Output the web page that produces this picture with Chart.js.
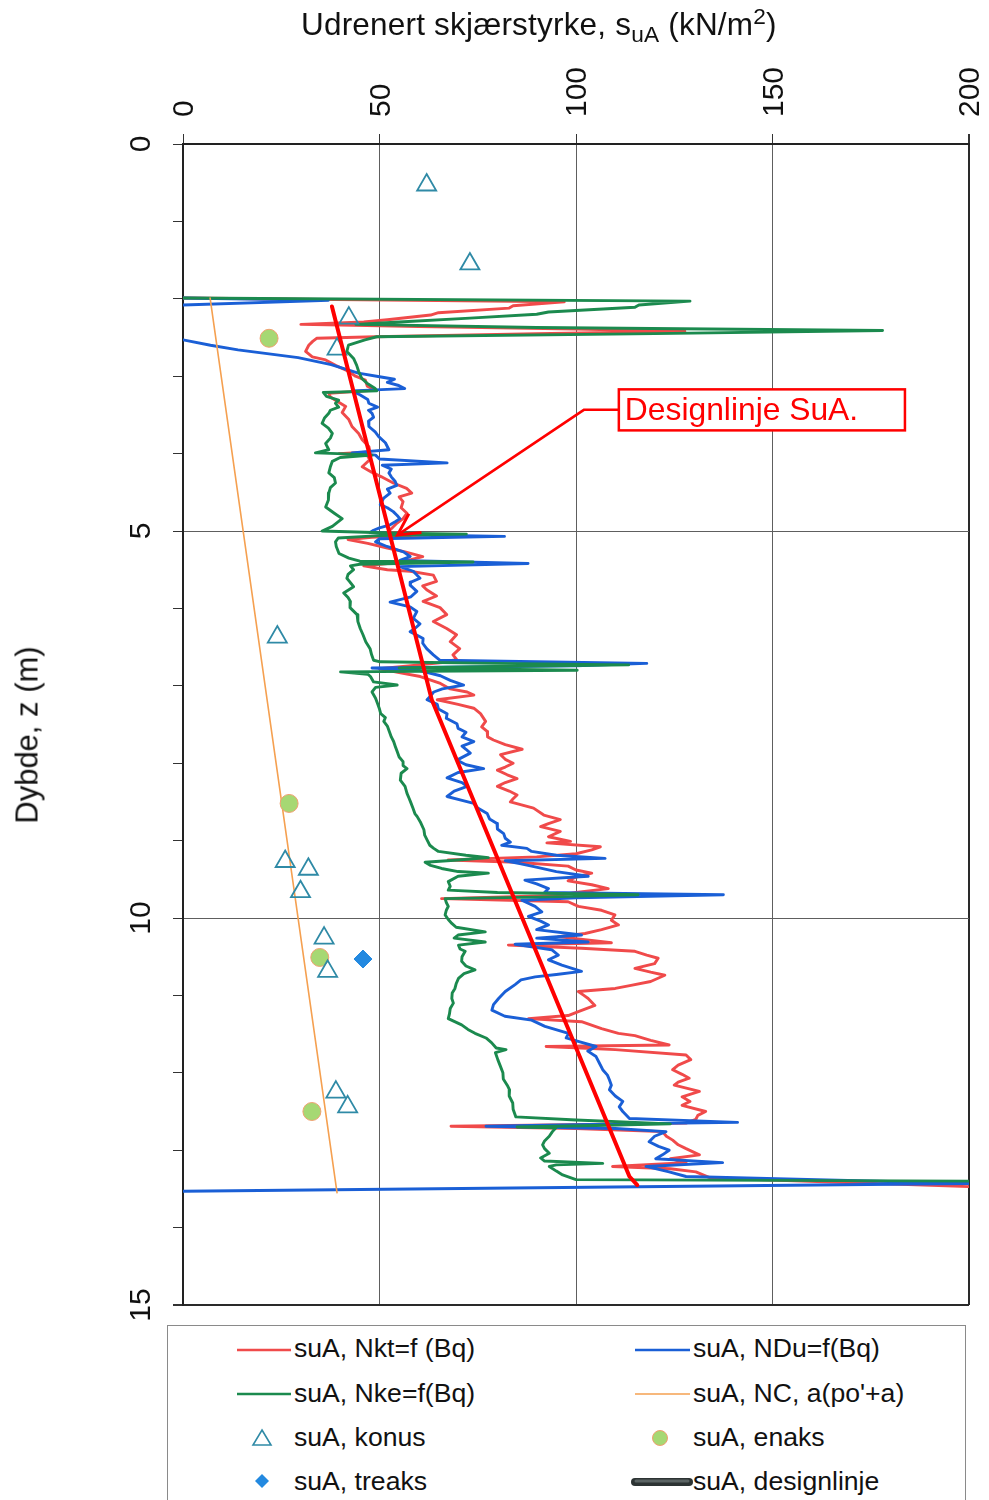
<!DOCTYPE html>
<html>
<head>
<meta charset="utf-8">
<script src="https://cdn.jsdelivr.net/npm/chart.js@4.4.1/dist/chart.umd.min.js"></script>
<style>
  html, body { margin: 0; padding: 0; background: #fff; width: 989px; height: 1500px; overflow: hidden;
    font-family: "Liberation Sans", Arial, sans-serif; color: #111; }
  #wrap { position: absolute; left: 0; top: 0; width: 989px; height: 1320px; }
  #xtitle { position: absolute; left: 301px; top: 9px; font-size: 31.5px; line-height: 31px; white-space: nowrap; letter-spacing: 0.2px; }
  #xtitle sub { font-size: 0.72em; vertical-align: -0.3em; line-height: 0; }
  #xtitle sup { font-size: 0.72em; vertical-align: 0.5em; line-height: 0; }
  #ytitle { position: absolute; left: 27px; top: 735px; font-size: 31px; line-height: 31px; white-space: nowrap;
    transform: translate(-50%, -50%) rotate(-90deg); }
  #legend { position: absolute; left: 167px; top: 1325px; width: 799px; height: 200px;
    border: 1.5px solid #8a8a8a; box-sizing: border-box; }
  #legend svg { position: absolute; left: 0; top: 0; }
  .lab { position: absolute; font-size: 26.6px; line-height: 30px; white-space: nowrap; }
</style>
</head>
<body>
<div id="wrap"><canvas id="c" width="989" height="1320"></canvas></div>
<div id="xtitle">Udrenert skjærstyrke, s<sub>uA</sub> (kN/m<sup>2</sup>)</div>
<div id="ytitle">Dybde, z (m)</div>
<div id="legend">
  <svg width="799" height="200" viewBox="0 0 799 200">
    <line x1="69" y1="24" x2="123" y2="24" stroke="#f04a4a" stroke-width="2.5"/>
    <line x1="69" y1="68" x2="123" y2="68" stroke="#1b8a4e" stroke-width="2.5"/>
    <polygon points="94,104 103,119 85,119" fill="none" stroke="#2f8aa6" stroke-width="1.6"/>
    <polygon points="94,148 101,155 94,162 87,155" fill="#2389e0"/>
    <line x1="467" y1="24" x2="522" y2="24" stroke="#1a5fd6" stroke-width="2.5"/>
    <line x1="467" y1="68" x2="522" y2="68" stroke="#f5a050" stroke-width="1.5"/>
    <circle cx="492" cy="112" r="7.5" fill="#a6d873" stroke="#f0a070" stroke-width="1"/>
    <line x1="467" y1="156" x2="521" y2="156" stroke="#2c3333" stroke-width="8" stroke-linecap="round"/>
    <line x1="468" y1="155" x2="520" y2="155" stroke="#5b6464" stroke-width="3" stroke-linecap="round"/>
  </svg>
  <div class="lab" style="left:126px;top:7px">suA, Nkt=f (Bq)</div>
  <div class="lab" style="left:126px;top:52px">suA, Nke=f(Bq)</div>
  <div class="lab" style="left:126px;top:96px">suA, konus</div>
  <div class="lab" style="left:126px;top:140px">suA, treaks</div>
  <div class="lab" style="left:525px;top:7px">suA, NDu=f(Bq)</div>
  <div class="lab" style="left:525px;top:52px">suA, NC, a(po'+a)</div>
  <div class="lab" style="left:525px;top:96px">suA, enaks</div>
  <div class="lab" style="left:525px;top:140px">suA, designlinje</div>
</div>

<script>
// Axis tick labels
const strengthTicks = [0, 50, 100, 150, 200];   // kN/m2
const depthTicks = [0, 5, 10, 15];              // m

// Each profile is a list of [depth (m), suA (kN/m2)] pairs; null breaks the line.
const suNkt = [
  [1.99,0],[2.04,97],[2.09,84],[2.12,83],[2.18,65],[2.21,63],[2.27,52],[2.30,46],[2.33,30],[2.36,60],[2.39,100],
  [2.42,127.7],[2.45,90],[2.49,49],[2.51,34],[2.55,33],[2.60,32],[2.68,31.2],[2.75,32.9],[2.79,36.3],[2.86,38.8],
  [2.94,42.2],[3.00,43.9],[3.05,46.4],[3.13,46.9],[3.18,49],[3.22,37.1],[3.27,37.5],[3.31,38.8],[3.39,41.4],
  [3.47,40.5],[3.56,42.2],[3.65,43],[3.74,44.7],[3.82,45.6],[3.91,47.3],[3.98,47.6],[4.00,39.7],[4.03,47],
  [4.08,47.5],[4.17,45.6],[4.24,48],[4.30,50.5],[4.38,53.5],[4.45,56.9],[4.51,58.2],[4.56,55],[4.62,56],
  [4.70,55.5],[4.77,57],[4.84,56],[4.90,54.4],[4.97,53],[5.02,52],[5.05,62],[5.08,48],[5.11,42],[5.16,47],
  [5.22,52],[5.27,56.5],[5.33,61],[5.37,58],[5.41,54],[5.45,46],[5.50,52],[5.52,57.8],[5.57,63.7],[5.65,64.5],
  [5.71,61],[5.76,62],[5.84,64.5],[5.91,61.1],[5.99,65.4],[6.08,67.1],[6.17,63.7],[6.26,67.1],[6.34,69.6],
  [6.43,68],[6.52,70.4],[6.60,68.7],[6.66,69.6],[6.70,66],[6.74,58],[6.78,50],[6.83,55],[6.88,60.4],[6.97,65.5],
  [7.04,68],[7.08,72.3],[7.12,74],[7.18,64.7],[7.24,70],[7.29,74],[7.36,75.7],[7.46,77],[7.53,76],[7.59,77.4],
  [7.66,77.5],[7.70,79],[7.76,82],[7.82,86.3],[7.89,80.8],[7.95,82],[8.00,84],[8.05,82],[8.09,80],[8.15,82.5],
  [8.20,85],[8.25,82],[8.30,80],[8.36,83],[8.41,85],[8.46,84],[8.50,83.3],[8.58,89.2],[8.67,91.8],[8.73,96],
  [8.78,93],[8.82,91],[8.88,96],[8.95,93],[9.01,98.6],[9.03,92.6],[9.08,106.2],[9.12,104],[9.17,100],[9.21,90],
  [9.25,67.5],[9.28,85],[9.33,98],[9.38,100],[9.42,104],[9.47,100],[9.52,98],[9.57,104],[9.62,108.2],[9.67,100],
  [9.71,95],[9.75,65.8],[9.79,98],[9.85,100.6],[9.90,106.5],[9.96,109.9],[10.03,109],[10.09,110.8],[10.15,106.5],
  [10.20,102.3],[10.24,95.5],[10.29,104],[10.32,109],[10.35,82.8],[10.39,101.4],[10.43,115],[10.48,118],
  [10.52,120.9],[10.59,120],[10.65,115],[10.70,119],[10.74,122.6],[10.82,119],[10.87,114],[10.91,110],
  [10.95,100.6],[11.00,102],[11.04,103.1],[11.13,104.8],[11.21,100.6],[11.26,98],[11.30,87.9],[11.34,101.4],
  [11.43,106.5],[11.49,110.8],[11.52,115],[11.58,119],[11.64,123.7],[11.66,92.4],[11.70,110],[11.77,128],
  [11.83,129.2],[11.90,126],[11.96,124.6],[12.02,127],[12.07,128.8],[12.12,126],[12.16,125],[12.24,131.4],
  [12.31,127],[12.37,129],[12.42,127],[12.50,133],[12.55,131],[12.60,130.5],[12.65,128],[12.69,68.2],[12.72,100],
  [12.76,122],[12.82,123],[12.87,124.6],[12.93,126],[12.98,128],[13.06,131.4],[13.11,124],[13.16,128],
  [13.21,109.3],[13.24,124],[13.28,130.5],[13.36,134.3],[13.47,200]
];

const suNDu = [
  [1.99,0],[2.02,37],[2.08,0],null,[2.53,0],[2.60,7],[2.66,14],[2.76,29.3],[2.85,37.7],[2.96,44.6],[3.01,50.4],
  [3.04,53.8],[3.08,52],[3.12,54.9],[3.16,56.4],[3.19,43],[3.24,45],[3.30,47],[3.35,47.3],[3.40,49.5],[3.44,47.2],
  [3.48,48.1],[3.53,48.5],[3.58,47.2],[3.65,47.3],[3.72,48.9],[3.78,49.8],[3.86,51.5],[3.95,52.4],[3.99,43],
  [4.02,49],[4.07,50],[4.12,67.2],[4.15,50.7],[4.20,53],[4.25,52.4],[4.30,53],[4.36,54],[4.41,54.4],[4.46,52],
  [4.51,52.7],[4.58,51],[4.66,50.2],[4.70,52],[4.75,53.5],[4.80,54.5],[4.84,55.2],[4.88,54],[4.92,52.7],[4.96,50],
  [4.99,48.5],[5.02,47.6],[5.05,60],[5.07,81.8],[5.10,50],[5.14,49],[5.20,51.9],[5.27,56.1],[5.33,57.8],
  [5.38,55.2],[5.42,87.8],[5.46,55.2],[5.52,58.6],[5.61,60.3],[5.66,58],[5.70,57.8],[5.78,59.5],[5.85,58],
  [5.92,52.7],[5.98,57.8],[6.04,59.5],[6.13,58.6],[6.20,60.3],[6.26,59],[6.30,57.8],[6.39,61.1],[6.45,61],
  [6.52,62],[6.60,63.7],[6.67,65.4],[6.71,118],[6.74,100],[6.77,48.1],[6.80,60],[6.87,65.5],[6.93,68],[6.99,71.4],
  [7.04,66],[7.08,63.8],[7.13,63],[7.18,62.1],[7.24,64.7],[7.30,65],[7.36,67.2],[7.42,67],[7.49,69.7],[7.55,70],
  [7.60,72],[7.66,71],[7.72,74],[7.78,71],[7.82,72],[7.87,73.1],[7.96,69.7],[8.02,72],[8.07,76.5],[8.12,70],
  [8.19,67.2],[8.25,71],[8.30,72.3],[8.36,69],[8.43,67.2],[8.48,71],[8.52,74],[8.58,75],[8.65,77.4],[8.72,78],
  [8.78,79.9],[8.85,80],[8.91,81.6],[8.97,82],[9.02,83.3],[9.06,81.1],[9.10,87.5],[9.14,88.7],[9.19,95],
  [9.23,107.4],[9.26,82],[9.30,86],[9.34,89.6],[9.40,95],[9.46,103.1],[9.51,87],[9.56,90],[9.62,93],[9.67,92],
  [9.70,137.5],[9.74,100],[9.77,86.2],[9.85,89.6],[9.92,91.3],[9.98,87.9],[10.04,91],[10.09,93],[10.15,90],
  [10.22,101.4],[10.26,90],[10.31,103.1],[10.34,84.5],[10.41,93.8],[10.48,95.5],[10.54,93],[10.61,96.4],
  [10.69,101.4],[10.73,95],[10.76,89.6],[10.80,86],[10.86,84.5],[10.95,82],[11.04,80.3],[11.12,79],[11.19,78.6],
  [11.27,81.9],[11.32,88.7],[11.40,92.1],[11.49,98.1],[11.55,97.5],[11.60,101],[11.66,105.1],[11.72,103],
  [11.79,105.1],[11.88,106],[11.96,106.8],[12.03,108],[12.09,108.5],[12.16,109],[12.22,108.5],[12.30,110],
  [12.37,111.9],[12.44,111],[12.50,111.9],[12.59,113.6],[12.64,141.1],[12.67,100],[12.69,77.1],[12.72,110],
  [12.76,122.9],[12.82,120],[12.89,118.6],[12.95,121],[13.00,123.7],[13.06,122],[13.11,120.3],[13.16,137.3],
  [13.21,117.8],[13.28,123.7],[13.34,128],[13.43,200],[13.53,0]
];

const suNke = [
  [1.99,0],[2.03,129],[2.08,116],[2.11,115],[2.17,93],[2.20,90],[2.25,73],[2.30,55],[2.33,44],[2.37,90],
  [2.41,178],[2.45,120],[2.49,49.3],[2.53,46.3],[2.60,42.1],[2.68,41.7],[2.77,43.4],[2.86,44.2],[2.94,44.7],
  [3.03,45.5],[3.09,46.8],[3.16,48.9],[3.19,49.3],[3.21,35.7],[3.26,36.5],[3.31,39.6],[3.35,38.8],[3.40,39.6],
  [3.44,37.5],[3.48,37.1],[3.54,36],[3.61,35.4],[3.67,37],[3.74,38],[3.80,37.5],[3.87,36.3],[3.95,37.1],
  [3.99,33.7],[4.01,45],[4.02,48.1],[4.05,40],[4.10,38],[4.17,37.5],[4.25,37.1],[4.31,38.5],[4.38,38.8],
  [4.44,37.5],[4.51,37.1],[4.60,37],[4.69,36.3],[4.77,38.5],[4.84,40.5],[4.94,38],[5.00,35.4],[5.03,55],
  [5.04,72.1],[5.06,50],[5.09,39.5],[5.14,38.8],[5.20,39],[5.29,39.7],[5.35,42.2],[5.39,45],[5.40,73.8],
  [5.43,45],[5.45,42.6],[5.50,43.4],[5.56,42],[5.61,41.7],[5.66,42.5],[5.72,43.4],[5.80,40.9],[5.86,42],
  [5.91,42.6],[5.99,42.5],[6.08,44.3],[6.17,44.5],[6.26,45.1],[6.34,45.8],[6.43,46.5],[6.52,47.6],[6.60,48],
  [6.67,48.5],[6.69,50.2],[6.71,80],[6.73,113.4],[6.75,80],[6.77,55],[6.80,100.3],[6.82,40.1],[6.85,47],
  [6.88,47.7],[6.95,48.5],[6.99,54.5],[7.02,49],[7.08,48.1],[7.16,49],[7.23,49.5],[7.30,50],[7.36,50.3],
  [7.41,51.5],[7.46,51.1],[7.52,52],[7.59,52.5],[7.66,53],[7.72,53.6],[7.78,54],[7.85,54.5],[7.92,55],[7.98,56],
  [8.03,56],[8.07,57],[8.13,55.5],[8.22,55.3],[8.30,56.5],[8.39,57],[8.45,57.5],[8.50,57.9],[8.58,58.5],
  [8.65,59],[8.69,59.6],[8.77,60.5],[8.86,61.3],[8.93,61.5],[8.99,62.1],[9.06,62.8],[9.10,63.8],[9.14,65],
  [9.19,72],[9.22,77.7],[9.25,70],[9.28,61.6],[9.32,63],[9.36,65.8],[9.40,70],[9.42,77.7],[9.46,70],[9.53,67.5],
  [9.59,68],[9.64,67.5],[9.67,80],[9.70,115.8],[9.73,90],[9.75,66.7],[9.80,67],[9.85,67.5],[9.90,67],[9.96,66.7],
  [10.02,67.5],[10.07,68.4],[10.12,69.5],[10.18,76.9],[10.22,70],[10.26,69],[10.31,76.9],[10.35,70.1],
  [10.40,70.5],[10.43,71.8],[10.50,71],[10.56,70.9],[10.62,72],[10.67,74.3],[10.72,71.5],[10.78,70.1],
  [10.85,69.5],[10.91,69.2],[10.97,68.5],[11.04,68.4],[11.10,68.8],[11.17,68],[11.24,67.8],[11.30,67.5],
  [11.38,70.9],[11.44,72.5],[11.49,74.3],[11.55,77.1],[11.61,78.5],[11.68,79.7],[11.70,82.2],[11.74,79.5],
  [11.83,80.1],[11.92,80.8],[12.00,81.4],[12.08,81.5],[12.16,82.5],[12.22,83.1],[12.30,83],[12.39,83.9],
  [12.47,84],[12.57,84.7],[12.61,100],[12.64,115],[12.66,124],[12.68,105],[12.70,85],[12.71,94.9],[12.76,94],
  [12.82,93.2],[12.88,92],[12.93,91.5],[12.98,92],[13.04,93.2],[13.10,91],[13.14,92],[13.17,106.8],[13.19,95],
  [13.21,93.2],[13.27,95],[13.32,96.6],[13.38,100],[13.40,200]
];

const suNC = [[1.99,6.9],[13.55,39.2]];

const suDesign = [[2.10,37.9],[7.18,63.3],[13.34,113.6],[13.45,115.6]];

const suKonus = [
  [0.53,62],[1.55,73],[2.25,42.2],[2.65,39.2],[6.37,24.0],[9.27,26],[9.37,31.9],[9.66,29.9],
  [10.26,35.9],[10.69,36.8],[12.25,38.9],[12.44,41.9]
];
const suEnaks = [[2.51,21.9],[8.52,27],[10.51,34.8],[12.50,32.8]];
const suTreaks = [[10.53,45.8]];

const toPoints = rows => rows.map(r => r === null ? { x: null, y: null } : { x: r[1], y: r[0] });

const FONT = '"Liberation Sans", Arial, sans-serif';

// Rotated tick labels for both axes
const axisLabels = {
  id: 'axisLabels',
  afterDraw(chart) {
    const { ctx, chartArea, scales: { x, y } } = chart;
    ctx.save();
    ctx.fillStyle = '#111';
    ctx.font = '30px ' + FONT;
    strengthTicks.forEach(v => {
      ctx.save();
      ctx.translate(x.getPixelForValue(v) + 2, chartArea.top - 27);
      ctx.rotate(-Math.PI / 2);
      ctx.textAlign = 'left';
      ctx.textBaseline = 'middle';
      ctx.fillText(String(v), 0, 0);
      ctx.restore();
    });
    depthTicks.forEach(d => {
      ctx.save();
      ctx.translate(chartArea.left - 33, y.getPixelForValue(d));
      ctx.rotate(-Math.PI / 2);
      ctx.textAlign = 'center';
      ctx.textBaseline = 'alphabetic';
      ctx.fillText(String(d), 0, 0);
      ctx.restore();
    });
    ctx.restore();
  }
};

// Boxed note with a leader and an open arrow pointing at the design line
const designNote = {
  id: 'designNote',
  afterDatasetsDraw(chart, args, opts) {
    const { ctx, scales: { x, y } } = chart;
    const bx1 = x.getPixelForValue(opts.box[0]), bx2 = x.getPixelForValue(opts.box[1]);
    const by1 = y.getPixelForValue(opts.box[2]), by2 = y.getPixelForValue(opts.box[3]);
    const ym = (by1 + by2) / 2;
    const ex = x.getPixelForValue(opts.elbow);
    const tx = x.getPixelForValue(opts.tip[0]), ty = y.getPixelForValue(opts.tip[1]);
    ctx.save();
    ctx.strokeStyle = opts.color;
    ctx.fillStyle = '#fff';
    ctx.lineWidth = 2.5;
    ctx.fillRect(bx1, by1, bx2 - bx1, by2 - by1);
    ctx.strokeRect(bx1, by1, bx2 - bx1, by2 - by1);
    ctx.beginPath();
    ctx.moveTo(bx1, ym);
    ctx.lineTo(ex, ym);
    ctx.lineTo(tx, ty);
    ctx.stroke();
    const ang = Math.atan2(ym - ty, ex - tx);
    const len = 24, spread = 0.49;
    ctx.beginPath();
    ctx.moveTo(tx + len * Math.cos(ang + spread), ty + len * Math.sin(ang + spread));
    ctx.lineTo(tx, ty);
    ctx.lineTo(tx + len * Math.cos(ang - spread), ty + len * Math.sin(ang - spread));
    ctx.lineWidth = 3;
    ctx.stroke();
    ctx.fillStyle = opts.color;
    ctx.font = '31.8px ' + FONT;
    ctx.textAlign = 'left';
    ctx.textBaseline = 'middle';
    ctx.fillText(opts.text, bx1 + 6, ym + 1);
    ctx.restore();
  }
};

const lineSet = (label, rows, color, width, order) => ({
  label, data: toPoints(rows), showLine: true, borderColor: color, backgroundColor: color,
  borderWidth: width, pointRadius: 0, pointHoverRadius: 0, fill: false, spanGaps: false,
  borderJoinStyle: 'round', borderCapStyle: 'round', order
});

new Chart(document.getElementById('c'), {
  type: 'scatter',
  data: {
    datasets: [
      lineSet('suA, Nkt=f (Bq)', suNkt, '#f04a4a', 2.9, 7),
      lineSet('suA, NDu=f(Bq)', suNDu, '#1a5fd6', 2.9, 6),
      lineSet('suA, Nke=f(Bq)', suNke, '#1b8a4e', 2.9, 5),
      lineSet("suA, NC, a(po'+a)", suNC, '#f5a050', 1.6, 4),
      { label: 'suA, konus', data: toPoints(suKonus), pointStyle: 'triangle', pointRadius: 11,
        borderColor: '#2f8aa6', backgroundColor: 'rgba(0,0,0,0)', borderWidth: 1.8, order: 3 },
      { label: 'suA, enaks', data: toPoints(suEnaks), pointStyle: 'circle', pointRadius: 9,
        borderColor: '#f0a070', backgroundColor: '#a6d873', borderWidth: 1, order: 3 },
      { label: 'suA, treaks', data: toPoints(suTreaks), pointStyle: 'rectRot', pointRadius: 9,
        borderColor: '#2389e0', backgroundColor: '#2389e0', borderWidth: 1, order: 3 },
      lineSet('suA, designlinje', suDesign, '#ff0000', 4, 1)
    ]
  },
  options: {
    responsive: false,
    animation: false,
    events: [],
    layout: { padding: { left: 123, top: 100, right: 20, bottom: 15 } },
    plugins: {
      legend: { display: false },
      tooltip: { enabled: false },
      designNote: { box: [110.9, 183.7, 3.17, 3.70], elbow: 102, tip: [54.6, 5.05],
        text: 'Designlinje SuA.', color: '#ff0000' }
    },
    scales: {
      x: {
        type: 'linear', position: 'top', min: 0, max: 200,
        ticks: { stepSize: 50, display: false },
        grid: {
          color: c => c.tick && c.tick.value === 200 ? '#2a2a2a' : '#5e5e5e',
          lineWidth: c => c.tick && c.tick.value === 200 ? 2 : 1,
          tickColor: '#333', tickLength: 10, drawTicks: true
        },
        border: { display: true, color: '#222', width: 2 },
        afterFit(s) { s.height = 44; }
      },
      y: {
        type: 'linear', reverse: true, min: 0, max: 15,
        ticks: { stepSize: 1, display: false },
        grid: {
          color: c => {
            const v = c.tick ? c.tick.value : -1;
            if (v === 15) return '#2a2a2a';
            return v > 0 && v % 5 === 0 ? '#5e5e5e' : 'rgba(0,0,0,0)';
          },
          lineWidth: c => c.tick && c.tick.value === 15 ? 2 : 1,
          tickColor: '#333', tickLength: 10, drawTicks: true
        },
        border: { display: true, color: '#222', width: 2 },
        afterFit(s) { s.width = 60; }
      }
    }
  },
  plugins: [axisLabels, designNote]
});
</script>
</body>
</html>
